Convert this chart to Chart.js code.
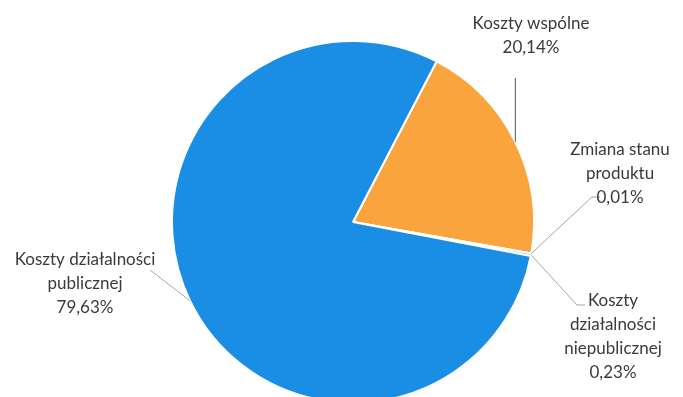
<!DOCTYPE html>
<html>
<head>
<meta charset="utf-8">
<script src="https://cdn.jsdelivr.net/npm/chart.js@4"></script>
<style>
  html, body { margin: 0; padding: 0; background: #fff; overflow: hidden; }
  #wrap { position: relative; width: 683px; height: 444px; }
</style>
</head>
<body>
<div id="wrap"><canvas id="Chart"></canvas></div>
<script>
// Struktura kosztów
const categories = ["Koszty wspólne", "Zmiana stanu produktu", "Koszty działalności niepublicznej", "Koszty działalności publicznej"];
const shares = [20.14, 0.01, 0.23, 79.63];
const colors = ["#f9a43c", "#f9a43c", "#1a8de4", "#1a8de4"];
const labelLines = [
    ["Koszty wspólne"],
    ["Zmiana stanu", "produktu"],
    ["Koszty", "działalności", "niepublicznej"],
    ["Koszty działalności", "publicznej"]
];
// środek pierwszej linii podpisu, względem środka koła
const labelOffsets = [[178, -198], [267, -72], [260, 79], [-268, 38]];
// punkty załamania linii odniesienia, względem środka koła
const leaderPoints = [
    [[null, -144]],
    [[239, -25], [247, -25]],
    [[224, 83], [232, 83]],
    [[-203, 48]]
];

function fmt(v) {
    return v.toFixed(2).replace(".", ",") + "%";
}

// podpisy z liniami odniesienia
const outerLabels = {
    id: "outerLabels",
    afterDatasetsDraw(chart) {
        const ctx = chart.ctx;
        const arcs = chart.getDatasetMeta(0).data;
        ctx.save();
        arcs.forEach(function (arc, i) {
            const cx = arc.x, cy = arc.y;
            const mid = (arc.startAngle + arc.endAngle) / 2;
            const ex = cx + Math.cos(mid) * arc.outerRadius;
            const ey = cy + Math.sin(mid) * arc.outerRadius;

            ctx.beginPath();
            ctx.strokeStyle = i === 0 ? "#555" : "#a6a6a6";
            ctx.lineWidth = 1;
            ctx.moveTo(ex, ey);
            leaderPoints[i].forEach(function (p) {
                const px = p[0] === null ? ex : cx + p[0];
                ctx.lineTo(px, cy + p[1]);
            });
            ctx.stroke();

            const lines = labelLines[i].concat([fmt(shares[i])]);
            ctx.fillStyle = "#3a3a3a";
            ctx.font = "17px Lato";
            ctx.textAlign = "center";
            ctx.textBaseline = "middle";
            lines.forEach(function (t, k) {
                ctx.fillText(t, cx + labelOffsets[i][0], cy + labelOffsets[i][1] + k * 24);
            });
        });
        ctx.restore();
    }
};

const chart = new Chart(document.getElementById("Chart"), {
    type: "pie",
    data: {
        labels: categories,
        datasets: [{
            data: shares,
            backgroundColor: colors,
            borderColor: "#fff",
            borderWidth: 2
        }]
    },
    options: {
        responsive: true,
        maintainAspectRatio: false,
        animation: false,
        rotation: 27.5,
        layout: { padding: { top: 40, bottom: 40, left: 171, right: 148 } },
        plugins: {
            legend: { display: false },
            tooltip: { enabled: false }
        }
    },
    plugins: [outerLabels]
});
</script>
</body>
</html>
